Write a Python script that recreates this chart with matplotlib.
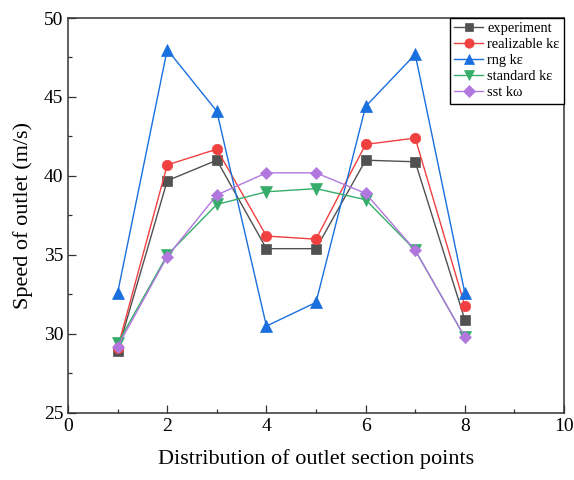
import numpy as np
import matplotlib
matplotlib.use("Agg")
import matplotlib.pyplot as plt
from matplotlib.ticker import MultipleLocator

plt.rcParams['font.family'] = ['Liberation Serif', 'DejaVu Serif']
plt.rcParams['mathtext.fontset'] = 'stix'

# section points
points = [1, 2, 3, 4, 5, 6, 7, 8]

# outlet speed (m/s)
experiment = [28.9, 39.7, 41.0, 35.4, 35.4, 41.0, 40.9, 30.9]
realizable = [29.1, 40.7, 41.7, 36.2, 36.0, 42.0, 42.4, 31.8]
rng = [32.6, 48.0, 44.1, 30.5, 32.0, 44.4, 47.7, 32.6]
standard = [29.4, 35.0, 38.2, 39.0, 39.2, 38.5, 35.3, 29.8]
sst = [29.2, 34.9, 38.8, 40.2, 40.2, 38.9, 35.3, 29.8]

labels = ['experiment', 'realizable k\u03b5', 'rng k\u03b5', 'standard k\u03b5', 'sst k\u03c9']
series = [experiment, realizable, rng, standard, sst]
colors = ['#515151', '#F14040', '#1A6FDF', '#37AD6B', '#B177DE']
markers = ['s', 'o', '^', 'v', 'D']
msizes = [6.5, 7.5, 8, 8, 6.5]

fig = plt.figure(figsize=(5.74, 4.8), dpi=100)
ax = fig.add_axes([0.1185, 0.1396, 0.8641, 0.8229])

for y, lab, c, m, ms in zip(series, labels, colors, markers, msizes):
    ax.plot(points, y, color=c, marker=m, markersize=ms, linewidth=1.0,
            markeredgecolor=c, markeredgewidth=0.5, label=lab)

ax.set_xlim(0, 10)
ax.set_ylim(25, 50)
ax.xaxis.set_major_locator(MultipleLocator(2))
ax.xaxis.set_minor_locator(MultipleLocator(1))
ax.yaxis.set_major_locator(MultipleLocator(5))
ax.yaxis.set_minor_locator(MultipleLocator(2.5))
ax.tick_params(which='major', direction='in', length=6, width=0.9, labelsize=14,
               top=False, right=False, colors='#333333', labelcolor='black')
ax.tick_params(which='minor', direction='in', length=3, width=0.9,
               top=False, right=False, colors='#333333')
for sp in ax.spines.values():
    sp.set_linewidth(1.1)
    sp.set_color('#333333')

ax.set_xlabel('Distribution of outlet section points', fontsize=16, labelpad=10)
ax.set_ylabel('Speed of outlet (m/s)', fontsize=16, labelpad=8)

leg = ax.legend(loc='upper right', borderaxespad=0, fontsize=10.4, fancybox=False,
                framealpha=1, edgecolor='black', handlelength=2.0, markerscale=0.9,
                handletextpad=0.3, labelspacing=0.2, borderpad=0.3)
leg.get_frame().set_linewidth(1.0)

fig.savefig('out.png', dpi=100)
